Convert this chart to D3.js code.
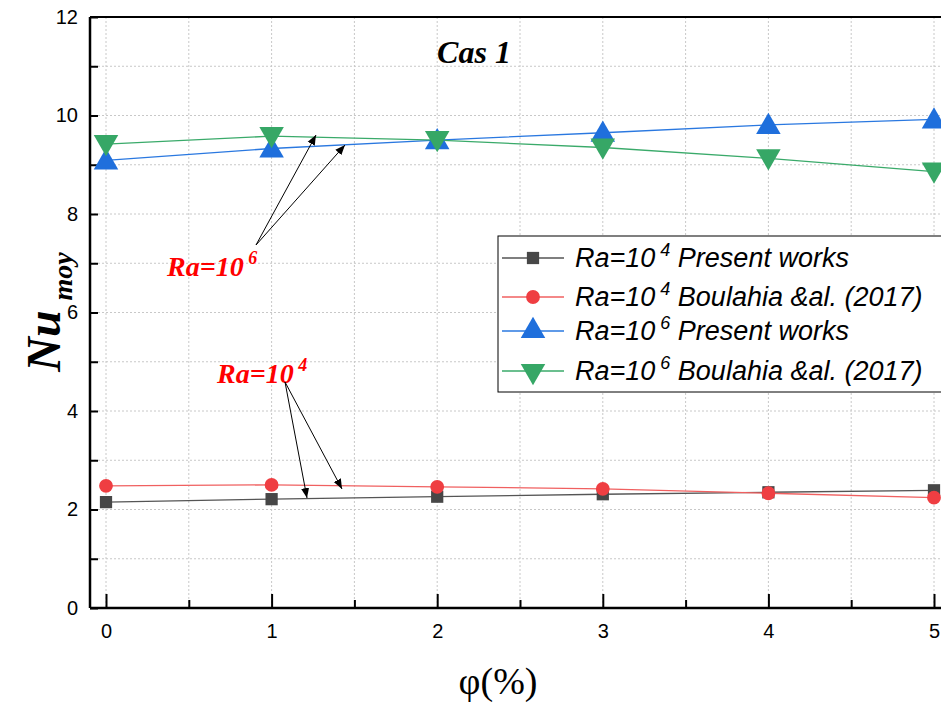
<!DOCTYPE html>
<html><head><meta charset="utf-8">
<script src="https://cdn.jsdelivr.net/npm/d3@7"></script>
<style>body{margin:0;background:#fff}svg{display:block}</style>
</head><body>
<svg id="c" width="941" height="704"></svg>
<script>
const phi = [0, 1, 2, 3, 4, 5];
const ra4Present = [2.15, 2.21, 2.26, 2.31, 2.35, 2.39];
const ra4Boulahia = [2.48, 2.50, 2.46, 2.42, 2.33, 2.24];
const ra6Present = [9.09, 9.33, 9.50, 9.65, 9.81, 9.92];
const ra6Boulahia = [9.42, 9.58, 9.50, 9.35, 9.13, 8.86];
const xTicks = [0, 1, 2, 3, 4, 5];
const yTicks = [0, 2, 4, 6, 8, 10, 12];

const svg = d3.select("#c");
const L = 90, R = 950, T = 17, B = 608;
const x = d3.scaleLinear().domain([0, 5]).range([106, 934]);
const y = d3.scaleLinear().domain([0, 12]).range([B, T]);

// grid
const g = svg.append("g");
d3.range(0, 5.01, 0.5).forEach(v => g.append("line").attr("x1", x(v)).attr("x2", x(v)).attr("y1", T).attr("y2", B)
  .attr("stroke", "#c8c8c8").attr("stroke-dasharray", "2,2").attr("stroke-width", 1));
d3.range(1, 12, 1).forEach(v => g.append("line").attr("x1", L).attr("x2", R).attr("y1", y(v)).attr("y2", y(v))
  .attr("stroke", "#c8c8c8").attr("stroke-dasharray", "2,2").attr("stroke-width", 1));

// axes
const xAxis = d3.axisBottom(x).tickValues(xTicks).tickSize(-14).tickPadding(16).tickFormat(d3.format("d"));
const xa = svg.append("g").attr("transform", `translate(0,${B})`).call(xAxis);
const xMinor = d3.axisBottom(x).tickValues([0.5,1.5,2.5,3.5,4.5]).tickSize(-8).tickFormat("");
svg.append("g").attr("transform", `translate(0,${B})`).call(xMinor).select(".domain").remove();
xa.select(".domain").attr("d", `M${L},0H${R}`);
const yAxis = d3.axisLeft(y).tickValues(yTicks).tickSize(-8).tickPadding(12).tickFormat(d3.format("d"));
const ya = svg.append("g").attr("transform", `translate(${L},0)`).call(yAxis);
const yMinor = d3.axisLeft(y).tickValues([1,3,5,7,9,11]).tickSize(-8).tickFormat("");
svg.append("g").attr("transform", `translate(${L},0)`).call(yMinor).select(".domain").remove();
ya.select(".domain").attr("d", `M0,${T}V${B}`);
svg.selectAll(".tick line").attr("stroke", "#000").attr("stroke-width", 2);
svg.selectAll(".domain").attr("stroke", "#000").attr("stroke-width", 2.5);
svg.selectAll(".tick text").attr("font-family", "Liberation Sans, Arial, sans-serif").attr("font-size", 20).attr("fill", "#000");
svg.append("line").attr("x1", L).attr("x2", R).attr("y1", T).attr("y2", T).attr("stroke", "#000").attr("stroke-width", 2);

// series
const series = [
  {vals: ra4Present, color: "#474747", line: "#555", sym: d3.symbolSquare, size: 150, rot: 0, label: "Ra=10", sup: "4", rest: " Present works"},
  {vals: ra4Boulahia, color: "#ef3e42", line: "#f06060", sym: d3.symbolCircle, size: 150, rot: 0, label: "Ra=10", sup: "4", rest: " Boulahia &al. (2017)"},
  {vals: ra6Present, color: "#1f6fdc", line: "#2a78e0", sym: d3.symbolTriangle, size: 260, rot: 0, label: "Ra=10", sup: "6", rest: " Present works"},
  {vals: ra6Boulahia, color: "#36a766", line: "#3aaa6a", sym: d3.symbolTriangle, size: 260, rot: 180, label: "Ra=10", sup: "6", rest: " Boulahia &al. (2017)"}
];
const line = d3.line().x((d, i) => x(phi[i])).y(d => y(d));
series.forEach(s => {
  svg.append("path").attr("d", line(s.vals)).attr("fill", "none").attr("stroke", s.line).attr("stroke-width", 1.3);
});
series.forEach(s => {
  svg.selectAll(null).data(s.vals).enter().append("path")
    .attr("d", d3.symbol().type(s.sym).size(s.size))
    .attr("transform", (d, i) => `translate(${x(phi[i])},${y(d) + (s.sym === d3.symbolTriangle ? (s.rot ? -2 : 2) : 0)}) rotate(${s.rot})`)
    .attr("fill", s.color);
});

// legend
const lg = svg.append("g");
lg.append("rect").attr("x", 498).attr("y", 236).attr("width", 460).attr("height", 156).attr("fill", "#fff").attr("stroke", "#000").attr("stroke-width", 1);
const rowsY = [258, 297, 331, 371];
series.forEach((s, i) => {
  const yy = rowsY[i];
  lg.append("line").attr("x1", 502).attr("x2", 564).attr("y1", yy).attr("y2", yy).attr("stroke", s.line).attr("stroke-width", 1.3);
  lg.append("path").attr("d", d3.symbol().type(s.sym).size(s.size)).attr("fill", s.color)
    .attr("transform", `translate(533,${yy}) rotate(${s.rot})`);
  const t = lg.append("text").attr("x", 575).attr("y", yy + 9).attr("font-family", "Liberation Sans, Arial, sans-serif")
    .attr("font-style", "italic").attr("font-size", 27).attr("fill", "#000");
  t.append("tspan").text(s.label);
  t.append("tspan").attr("dy", -11).attr("font-size", 18).text(" " + s.sup);
  t.append("tspan").attr("dy", 11).text(s.rest);
});

// title
svg.append("text").attr("x", 474).attr("y", 63).attr("text-anchor", "middle").attr("font-family", "Liberation Serif, Times New Roman, serif")
  .attr("font-weight", "bold").attr("font-style", "italic").attr("font-size", 32).text("Cas 1");

// annotations
const defs = svg.append("defs");
defs.append("marker").attr("id", "ah").attr("viewBox", "0 0 10 10").attr("refX", 10).attr("refY", 5)
  .attr("markerWidth", 10).attr("markerHeight", 10).attr("markerUnits", "userSpaceOnUse").attr("orient", "auto")
  .append("path").attr("d", "M0,1L10,5L0,9Z").attr("fill", "#000");
function ann(txt, sup, tx, ty, from, tos) {
  const t = svg.append("text").attr("x", tx).attr("y", ty).attr("font-family", "Liberation Serif, Times New Roman, serif")
    .attr("font-weight", "bold").attr("font-style", "italic").attr("font-size", 28).attr("fill", "#ff0000");
  t.append("tspan").text(txt);
  t.append("tspan").attr("dy", -12).attr("font-size", 18).text("  " + sup);
  tos.forEach(p => svg.append("line").attr("x1", from[0]).attr("y1", from[1]).attr("x2", p[0]).attr("y2", p[1])
    .attr("stroke", "#000").attr("stroke-width", 1).attr("marker-end", "url(#ah)"));
}
ann("Ra=10", "6", 167, 276, [256, 245], [[316, 135], [345, 145]]);
ann("Ra=10", "4", 217, 383, [285, 382], [[307, 498], [342, 489]]);

// axis titles
const yl = svg.append("text").attr("transform", "translate(60,312) rotate(-90)").attr("text-anchor", "middle")
  .attr("font-family", "Liberation Serif, Times New Roman, serif").attr("font-weight", "bold").attr("font-style", "italic").attr("font-size", 48);
yl.append("tspan").text("Nu");
yl.append("tspan").attr("dy", 12).attr("dx", 10).attr("font-size", 28).text("moy");
svg.append("text").attr("x", 498).attr("y", 694).attr("text-anchor", "middle")
  .attr("font-family", "Liberation Serif, Times New Roman, serif").attr("font-size", 38).text("φ(%)");
</script>
</body></html>
